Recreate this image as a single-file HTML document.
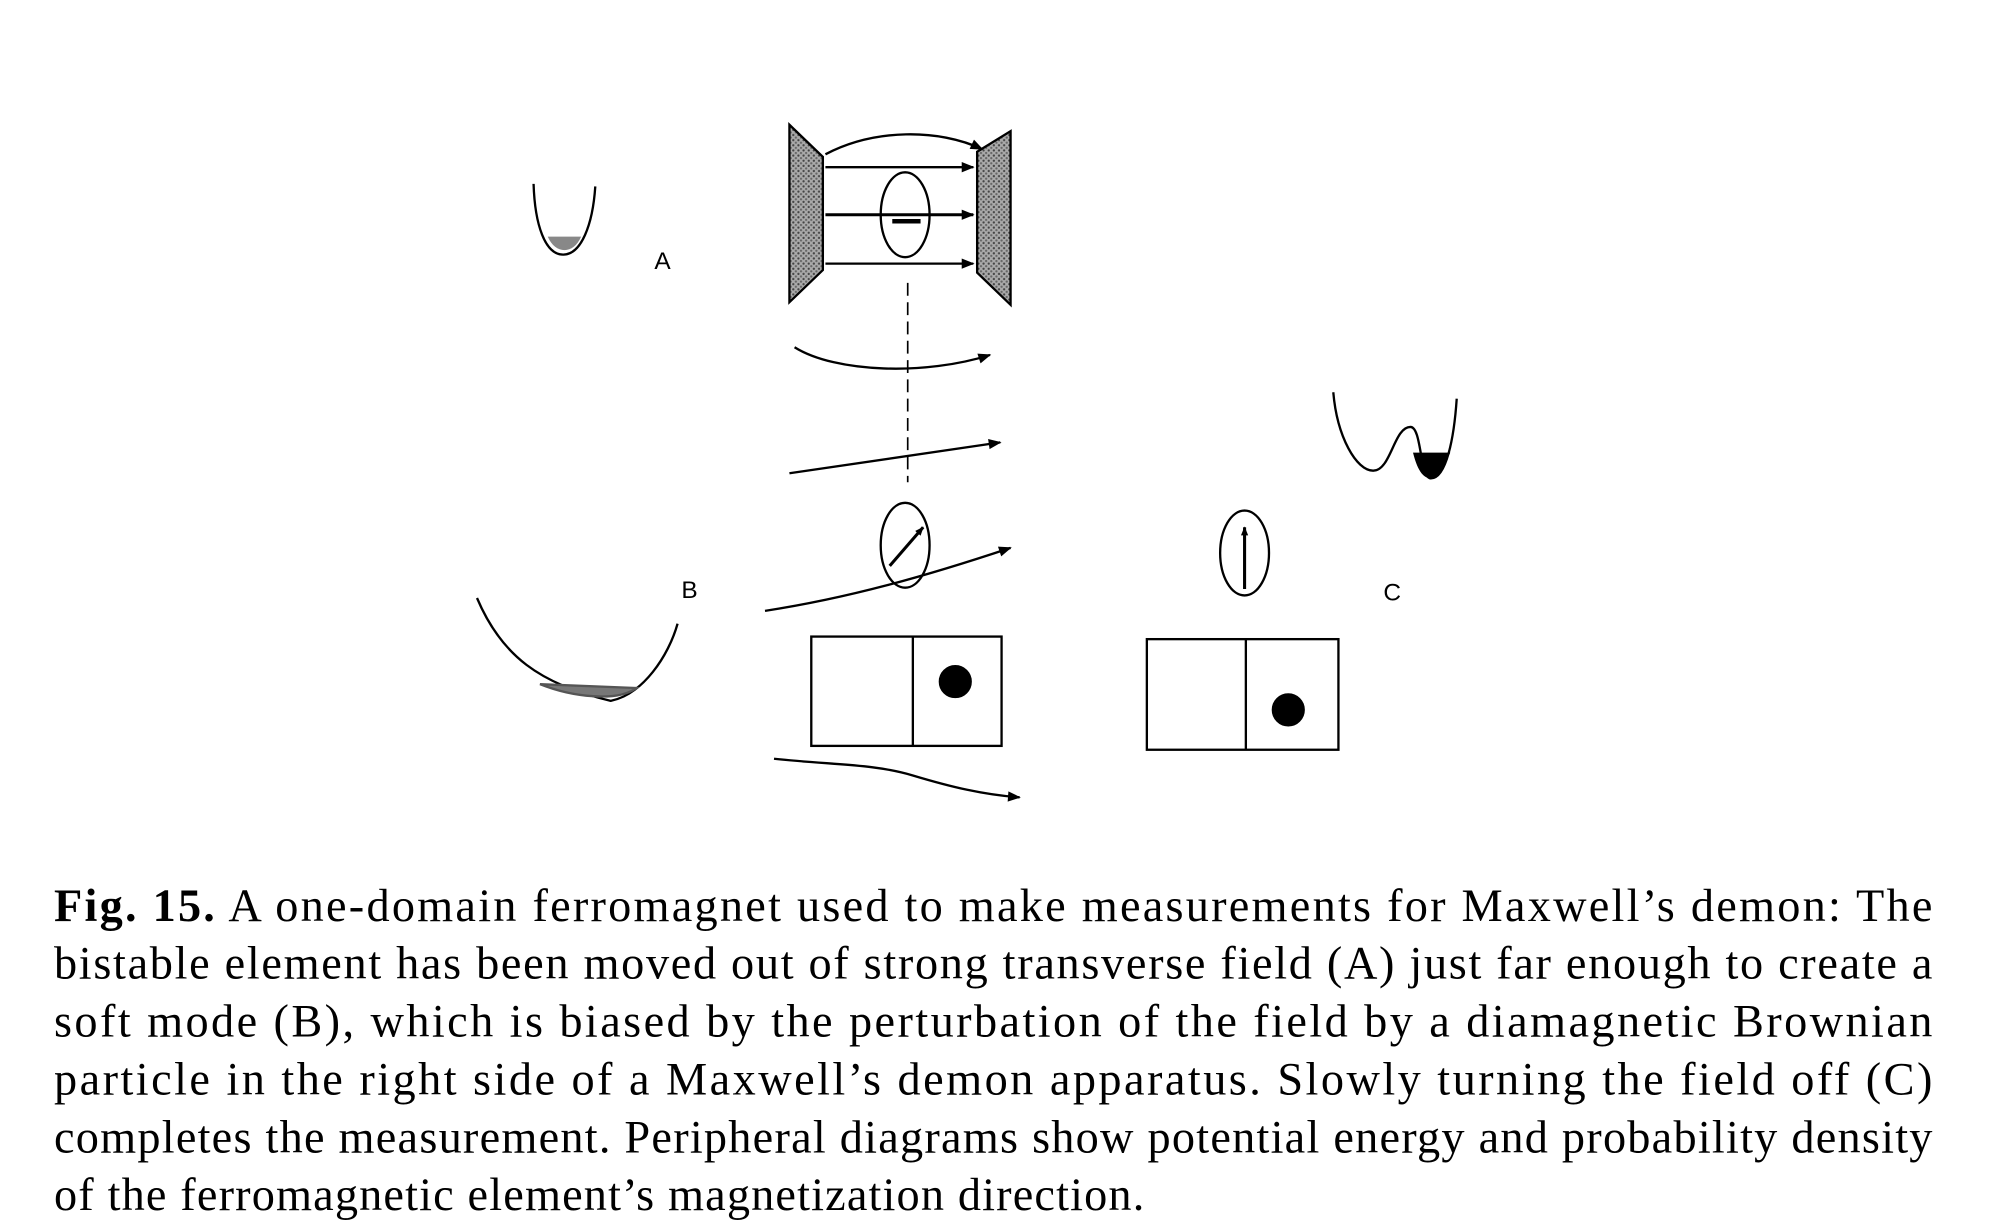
<!DOCTYPE html>
<html><head><meta charset="utf-8"><style>
html,body{margin:0;padding:0;background:#fff;}
svg{display:block;}
</style></head><body>
<svg width="2016" height="1232" viewBox="0 0 1568 958" preserveAspectRatio="none" xmlns="http://www.w3.org/2000/svg">
<defs>
<pattern id="st" width="4" height="4" patternUnits="userSpaceOnUse">
<rect width="4" height="4" fill="#aaa"/><circle cx="1" cy="1" r="0.9" fill="#444"/><circle cx="3" cy="3" r="0.9" fill="#666"/>
</pattern>
<marker id="ah" viewBox="0 0 10 10" refX="9" refY="5" markerWidth="7" markerHeight="7" orient="auto" markerUnits="userSpaceOnUse">
<path d="M0,1 L10,5 L0,9 z" fill="#000"/></marker>
<marker id="ah2" viewBox="0 0 10 10" refX="9" refY="5" markerWidth="16" markerHeight="10" orient="auto" markerUnits="userSpaceOnUse">
<path d="M0,1 L10,5 L0,9 z" fill="#000"/></marker>
</defs>
<g fill="none" stroke="#000" stroke-width="1.8">
<path d="M415,143 C416,175 424,198 438,198 C452,198 461,175 463,145"/>
<path d="M426,184 C432,198 446,198 452,184 Z" fill="#888" stroke="none"/>
<path d="M614,97 L640,122 L640,210 L614,235 Z" fill="url(#st)"/>
<path d="M760,118 L786,102 L786,237 L760,212 Z" fill="url(#st)"/>
<path d="M642,120 C680,100 730,100 764,116" marker-end="url(#ah2)"/>
<line x1="642" y1="130" x2="757" y2="130" marker-end="url(#ah2)"/>
<line x1="642" y1="167" x2="757" y2="167" stroke-width="2.4" marker-end="url(#ah2)"/>
<line x1="642" y1="205" x2="757" y2="205" marker-end="url(#ah2)"/>
<ellipse cx="704" cy="167" rx="19" ry="33"/>
<line x1="694" y1="172" x2="716" y2="172" stroke-width="3.5"/>
<line x1="706" y1="220" x2="706" y2="375" stroke-dasharray="10,5" stroke-width="1.3"/>
<path d="M618,270 C650,290 720,292 770,276" marker-end="url(#ah2)"/>
<line x1="614" y1="368" x2="778" y2="344" marker-end="url(#ah2)"/>
<ellipse cx="704" cy="424" rx="19" ry="33"/>
<line x1="692" y1="440" x2="718" y2="410" stroke-width="2.4" marker-end="url(#ah)"/>
<path d="M595,475 C660,465 720,448 786,426" marker-end="url(#ah2)"/>
<path d="M371,465 C390,510 420,532 475,545 C500,540 520,510 527,485"/>
<path d="M420,532 C445,542 480,546 495,535 Z" fill="#777" stroke="#555"/>
<rect x="631" y="495" width="148" height="85"/>
<line x1="710" y1="495" x2="710" y2="580"/>
<circle cx="743" cy="530" r="12" fill="#000"/>
<path d="M602,590 C650,595 680,594 710,603 C740,612 765,618 793,620" marker-end="url(#ah2)"/>
<ellipse cx="968" cy="430" rx="19" ry="33"/>
<line x1="968" y1="458" x2="968" y2="410" stroke-width="2.4" marker-end="url(#ah)"/>
<rect x="892" y="497" width="149" height="86"/>
<line x1="969" y1="497" x2="969" y2="583"/>
<circle cx="1002" cy="552" r="12" fill="#000"/>
<path d="M1037,305 C1040,340 1055,366 1068,366 C1082,366 1084,332 1097,332 C1106,332 1104,372 1113,372 C1125,372 1131,340 1133,310"/>
<path d="M1099,352 C1103,368 1108,372 1113,372 C1120,372 1124,360 1128,352 Z" fill="#000" stroke="none"/>
</g>
<g font-family="Liberation Sans, sans-serif" font-size="19" fill="#000">
<text x="509" y="209">A</text>
<text x="530" y="465">B</text>
<text x="1076" y="467">C</text>
</g>
<g font-family="Liberation Serif, serif" font-size="36" fill="#000">
<text x="42" y="716" textLength="1461" lengthAdjust="spacing"><tspan font-weight="bold">Fig. 15.</tspan> A one-domain ferromagnet used to make measurements for Maxwell’s demon: The</text>
<text x="42" y="761" textLength="1461" lengthAdjust="spacing">bistable element has been moved out of strong transverse field (A) just far enough to create a</text>
<text x="42" y="806" textLength="1461" lengthAdjust="spacing">soft mode (B), which is biased by the perturbation of the field by a diamagnetic Brownian</text>
<text x="42" y="851" textLength="1461" lengthAdjust="spacing">particle in the right side of a Maxwell’s demon apparatus. Slowly turning the field off (C)</text>
<text x="42" y="896" textLength="1461" lengthAdjust="spacing">completes the measurement. Peripheral diagrams show potential energy and probability density</text>
<text x="42" y="941" textLength="848" lengthAdjust="spacing">of the ferromagnetic element’s magnetization direction.</text>
</g>
</svg>
</body></html>
